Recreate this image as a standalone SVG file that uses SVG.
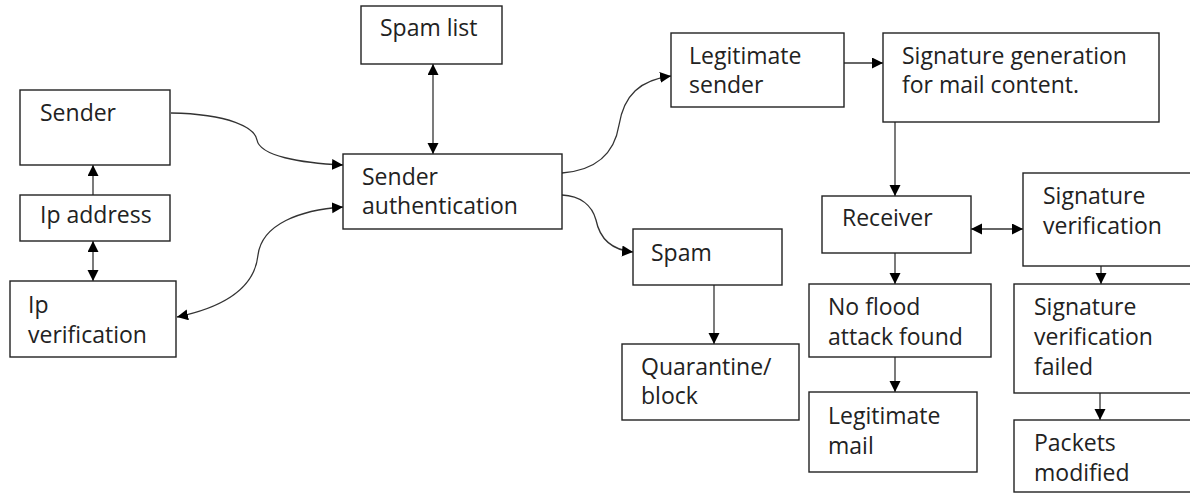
<svg xmlns="http://www.w3.org/2000/svg" width="1190" height="493" viewBox="0 0 1190 493">
<style>
rect.box{fill:#fff;stroke:#222;stroke-width:1.4}
text{font-family:"Open Sans","Noto Sans",sans-serif;font-size:23px;fill:#222}
.con{fill:none;stroke:#333;stroke-width:1.3}
</style>
<defs>
<marker id="ah" markerUnits="userSpaceOnUse" markerWidth="12" markerHeight="12" refX="11" refY="5.5" orient="auto-start-reverse" viewBox="0 0 12 12">
<path d="M0,0 L11,5.5 L0,11 z" fill="#000"/>
</marker>
</defs>
<rect width="1190" height="493" fill="#fff"/>
<g id="connectors">
<line class="con" x1="93" y1="195" x2="93" y2="165" marker-end="url(#ah)"/>
<line class="con" x1="93" y1="241" x2="93" y2="281" marker-start="url(#ah)" marker-end="url(#ah)"/>
<path class="con" d="M171,113 C230,114 255,128 257,140 C260,156 300,163 343,165" marker-end="url(#ah)"/>
<path class="con" d="M177,317 C230,306 255,285 258,255 C262,224 300,210 343,207" marker-start="url(#ah)" marker-end="url(#ah)"/>
<line class="con" x1="433" y1="64" x2="433" y2="154" marker-start="url(#ah)" marker-end="url(#ah)"/>
<path class="con" d="M562,173 C600,170 615,150 619,125 C624,95 640,80 671,76" marker-end="url(#ah)"/>
<path class="con" d="M562,195 C580,196 592,205 596,220 C600,240 612,250 633,252" marker-end="url(#ah)"/>
<line class="con" x1="714" y1="285" x2="714" y2="344" marker-end="url(#ah)"/>
<line class="con" x1="844" y1="63" x2="883" y2="63" marker-end="url(#ah)"/>
<line class="con" x1="895" y1="122" x2="895" y2="196" marker-end="url(#ah)"/>
<line class="con" x1="971" y1="229" x2="1023" y2="229" marker-start="url(#ah)" marker-end="url(#ah)"/>
<line class="con" x1="895" y1="253" x2="895" y2="284" marker-end="url(#ah)"/>
<line class="con" x1="895" y1="357" x2="895" y2="392" marker-end="url(#ah)"/>
<line class="con" x1="1101" y1="266" x2="1101" y2="284" marker-end="url(#ah)"/>
<line class="con" x1="1100" y1="393" x2="1100" y2="420" marker-end="url(#ah)"/>
</g>
<g id="sender"><rect class="box" x="20" y="90" width="150" height="75"/><text x="40" y="121">Sender</text></g>
<g id="ip-address"><rect class="box" x="20" y="195" width="150" height="46"/><text x="40" y="223">Ip address</text></g>
<g id="ip-verification"><rect class="box" x="10" y="281" width="166" height="76"/><text x="28" y="313">Ip</text><text x="28" y="343">verification</text></g>
<g id="spam-list"><rect class="box" x="361" y="6" width="141" height="58"/><text x="380" y="36">Spam list</text></g>
<g id="sender-auth"><rect class="box" x="343" y="154" width="219" height="75"/><text x="362" y="185">Sender</text><text x="362" y="214">authentication</text></g>
<g id="legitimate-sender"><rect class="box" x="671" y="33" width="173" height="74"/><text x="689" y="64">Legitimate</text><text x="689" y="93">sender</text></g>
<g id="signature-generation"><rect class="box" x="883" y="33" width="276" height="89"/><text x="902" y="64">Signature generation</text><text x="902" y="93">for mail content.</text></g>
<g id="spam"><rect class="box" x="633" y="229" width="149" height="56"/><text x="651" y="261">Spam</text></g>
<g id="quarantine"><rect class="box" x="622" y="344" width="177" height="76"/><text x="641" y="375">Quarantine/</text><text x="641" y="404">block</text></g>
<g id="receiver"><rect class="box" x="822" y="196" width="149" height="57"/><text x="842" y="226">Receiver</text></g>
<g id="signature-verification"><rect class="box" x="1023" y="173" width="200" height="93"/><text x="1043" y="204">Signature</text><text x="1043" y="234">verification</text></g>
<g id="no-flood"><rect class="box" x="809" y="284" width="182" height="73"/><text x="828" y="315">No flood</text><text x="828" y="345">attack found</text></g>
<g id="legitimate-mail"><rect class="box" x="809" y="392" width="168" height="80"/><text x="828" y="424">Legitimate</text><text x="828" y="454">mail</text></g>
<g id="signature-failed"><rect class="box" x="1014" y="284" width="200" height="109"/><text x="1034" y="315">Signature</text><text x="1034" y="345">verification</text><text x="1034" y="375">failed</text></g>
<g id="packets-modified"><rect class="box" x="1014" y="420" width="200" height="72"/><text x="1034" y="451">Packets</text><text x="1034" y="481">modified</text></g>
</svg>
